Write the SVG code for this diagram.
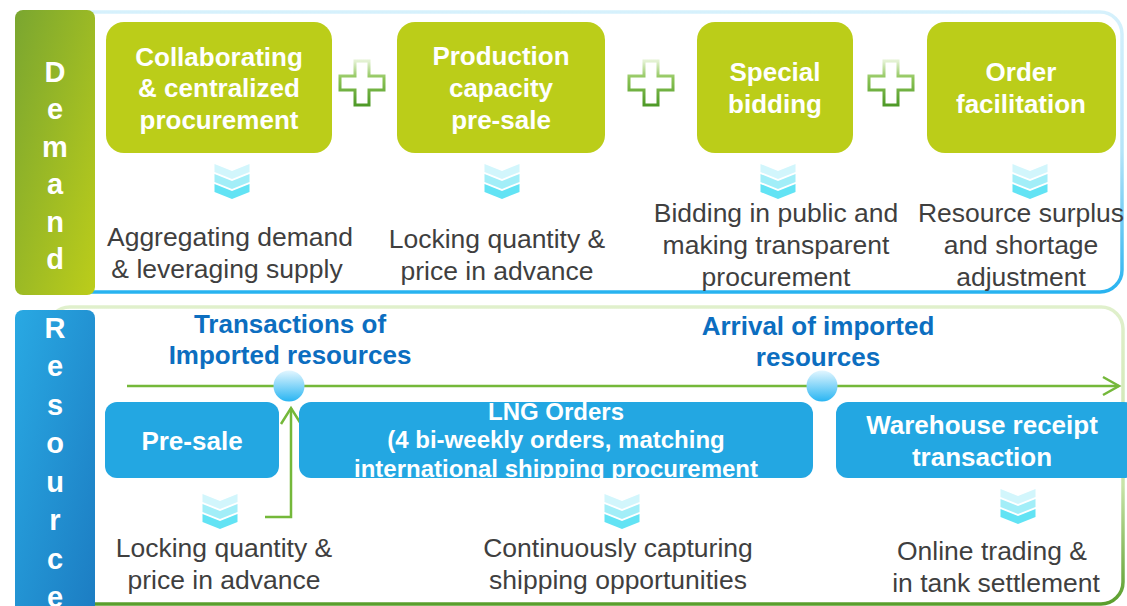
<svg xmlns="http://www.w3.org/2000/svg" width="1127" height="606" viewBox="0 0 1127 606">
<defs>
<linearGradient id="gDemand" x1="0" y1="0" x2="1" y2="1"><stop offset="0" stop-color="#7aa630"/><stop offset="1" stop-color="#bccd1a"/></linearGradient>
<linearGradient id="gRes" x1="0" y1="0" x2="1" y2="1"><stop offset="0" stop-color="#29a9e3"/><stop offset="1" stop-color="#1c7cc2"/></linearGradient>
<linearGradient id="gTopFrame" x1="0" y1="0" x2="0" y2="1"><stop offset="0" stop-color="#d6f1fc"/><stop offset="0.5" stop-color="#b5e4f8"/><stop offset="1" stop-color="#28b3f0"/></linearGradient>
<linearGradient id="gBotFrame" x1="0" y1="0" x2="0" y2="1"><stop offset="0" stop-color="#e0f0cc"/><stop offset="0.6" stop-color="#c8e4a8"/><stop offset="1" stop-color="#5a9e2c"/></linearGradient>
<linearGradient id="gPlus" x1="0" y1="0" x2="0" y2="1"><stop offset="0" stop-color="#e4f2d4"/><stop offset="0.4" stop-color="#8cc456"/><stop offset="1" stop-color="#4f9a28"/></linearGradient>
<linearGradient id="gDot" x1="0" y1="0" x2="0" y2="1"><stop offset="0" stop-color="#e2f6ff"/><stop offset="1" stop-color="#29b5f2"/></linearGradient>
<symbol id="plus" overflow="visible">
<path d="M-7,-22 H7 V-7 H22 V7 H7 V22 H-7 V7 H-22 V-7 H-7 Z" fill="#fff" stroke="url(#gPlus)" stroke-width="3"/>
</symbol>
<symbol id="chev" overflow="visible">
<polygon points="-17.5,0 0,7 17.5,0 17.5,8 0,15 -17.5,8" fill="#d2f6fc"/>
<polygon points="-17.5,10 0,17 17.5,10 17.5,18 0,25 -17.5,18" fill="#a2eef8"/>
<polygon points="-17.5,20 0,27 17.5,20 17.5,28 0,35 -17.5,28" fill="#62e3f4"/>
</symbol>
<clipPath id="clipLng"><rect x="299" y="402" width="514" height="76" rx="12"/></clipPath>
<style>
.gbox{fill:#bbcd19}
.bbox{fill:#23a7e2}
.gt{font-family:"Liberation Sans",Arial,sans-serif;font-weight:bold;font-size:26px;fill:#fff;text-anchor:middle}
.bt{font-family:"Liberation Sans",Arial,sans-serif;font-weight:bold;font-size:24px;fill:#fff;text-anchor:middle}
.desc{font-family:"Liberation Sans",Arial,sans-serif;font-size:26.5px;fill:#3f3f3f;text-anchor:middle}
.ttl{font-family:"Liberation Sans",Arial,sans-serif;font-weight:bold;font-size:26px;fill:#0c6ec0;text-anchor:middle}
.side{font-family:"Liberation Sans",Arial,sans-serif;font-weight:bold;font-size:29px;fill:#fff;text-anchor:middle}
.conn{fill:none;stroke:#74b83a;stroke-width:2.5}
</style>
</defs>
<rect width="1127" height="606" fill="#fff"/>

<!-- frames -->
<rect x="58" y="12" width="1064" height="280" rx="22" fill="none" stroke="url(#gTopFrame)" stroke-width="3.5"/>
<rect x="48" y="307" width="1075" height="297" rx="22" fill="none" stroke="url(#gBotFrame)" stroke-width="3.5"/>

<!-- sidebars -->
<g id="demand-side">
<rect x="15" y="10" width="80" height="285" rx="8" fill="url(#gDemand)"/>
<text class="side" x="55" y="82">D</text>
<text class="side" x="55" y="119">e</text>
<text class="side" x="55" y="157">m</text>
<text class="side" x="55" y="194">a</text>
<text class="side" x="55" y="232">n</text>
<text class="side" x="55" y="269">d</text>
</g>
<g id="resource-side">
<rect x="15" y="310" width="80" height="310" rx="8" fill="url(#gRes)"/>
<text class="side" x="55" y="338">R</text>
<text class="side" x="55" y="376">e</text>
<text class="side" x="55" y="415">s</text>
<text class="side" x="55" y="453">o</text>
<text class="side" x="55" y="492">u</text>
<text class="side" x="55" y="530">r</text>
<text class="side" x="55" y="569">c</text>
<text class="side" x="55" y="607">e</text>
</g>

<!-- demand nodes -->
<g id="collab">
<rect class="gbox" x="106" y="22" width="226" height="131" rx="18"/>
<text class="gt" x="219" y="66">Collaborating</text>
<text class="gt" x="219" y="97">&amp; centralized</text>
<text class="gt" x="219" y="129">procurement</text>
</g>
<g id="prod">
<rect class="gbox" x="397" y="22" width="208" height="131" rx="18"/>
<text class="gt" x="501" y="65">Production</text>
<text class="gt" x="501" y="97">capacity</text>
<text class="gt" x="501" y="129">pre-sale</text>
</g>
<g id="special">
<rect class="gbox" x="697" y="22" width="156" height="131" rx="18"/>
<text class="gt" x="775" y="81">Special</text>
<text class="gt" x="775" y="113">bidding</text>
</g>
<g id="order">
<rect class="gbox" x="927" y="22" width="189" height="131" rx="18"/>
<text class="gt" x="1021" y="81">Order</text>
<text class="gt" x="1021" y="113">facilitation</text>
</g>

<!-- plus signs -->
<use href="#plus" x="362" y="83"/>
<use href="#plus" x="651" y="83"/>
<use href="#plus" x="891" y="83"/>

<!-- demand chevrons and descriptions -->
<use href="#chev" x="232" y="164"/>
<use href="#chev" x="502" y="164"/>
<use href="#chev" x="778" y="164"/>
<use href="#chev" x="1030" y="164"/>

<g id="desc-collab">
<text class="desc" x="230" y="246">Aggregating demand</text>
<text class="desc" x="227" y="278">&amp; leveraging supply</text>
</g>
<g id="desc-prod">
<text class="desc" x="497" y="248">Locking quantity &amp;</text>
<text class="desc" x="497" y="280">price in advance</text>
</g>
<g id="desc-special">
<text class="desc" x="776" y="222">Bidding in public and</text>
<text class="desc" x="776" y="254">making transparent</text>
<text class="desc" x="776" y="286">procurement</text>
</g>
<g id="desc-order">
<text class="desc" x="1021" y="222">Resource surplus</text>
<text class="desc" x="1021" y="254">and shortage</text>
<text class="desc" x="1021" y="286">adjustment</text>
</g>

<!-- resource section -->
<g id="title-trans">
<text class="ttl" x="290" y="333">Transactions of</text>
<text class="ttl" x="290" y="364">Imported resources</text>
</g>
<g id="title-arrival">
<text class="ttl" x="818" y="335">Arrival of imported</text>
<text class="ttl" x="818" y="366">resources</text>
</g>

<g id="connectors">
<line class="conn" x1="127" y1="386" x2="1119" y2="386"/>
<polyline class="conn" points="1103,377 1119,386 1103,395"/>
<polyline class="conn" points="265,517 291,517 291,408"/>
<polyline class="conn" points="281,424 291,408 301,424"/>
</g>

<circle id="dot1" cx="289" cy="386" r="15.5" fill="url(#gDot)"/>
<circle id="dot2" cx="822" cy="386" r="15.5" fill="url(#gDot)"/>

<g id="presale">
<rect class="bbox" x="105" y="402" width="174" height="76" rx="12"/>
<text class="gt" x="192" y="450">Pre-sale</text>
</g>
<g id="lng">
<rect class="bbox" x="299" y="402" width="514" height="76" rx="12"/>
<g clip-path="url(#clipLng)">
<text class="bt" x="556" y="420">LNG Orders</text>
<text class="bt" x="556" y="448">(4 bi-weekly orders, matching</text>
<text class="bt" x="556" y="477">international shipping procurement</text>
</g>
</g>
<g id="warehouse">
<rect class="bbox" x="836" y="402" width="300" height="76" rx="12"/>
<text class="gt" x="982" y="434">Warehouse receipt</text>
<text class="gt" x="982" y="466">transaction</text>
</g>

<use href="#chev" x="220" y="494"/>
<use href="#chev" x="622" y="494"/>
<use href="#chev" x="1018" y="489"/>

<g id="desc-presale">
<text class="desc" x="224" y="557">Locking quantity &amp;</text>
<text class="desc" x="224" y="589">price in advance</text>
</g>
<g id="desc-lng">
<text class="desc" x="618" y="557">Continuously capturing</text>
<text class="desc" x="618" y="589">shipping opportunities</text>
</g>
<g id="desc-warehouse">
<text class="desc" x="992" y="560">Online trading &amp;</text>
<text class="desc" x="996" y="592">in tank settlement</text>
</g>
</svg>
